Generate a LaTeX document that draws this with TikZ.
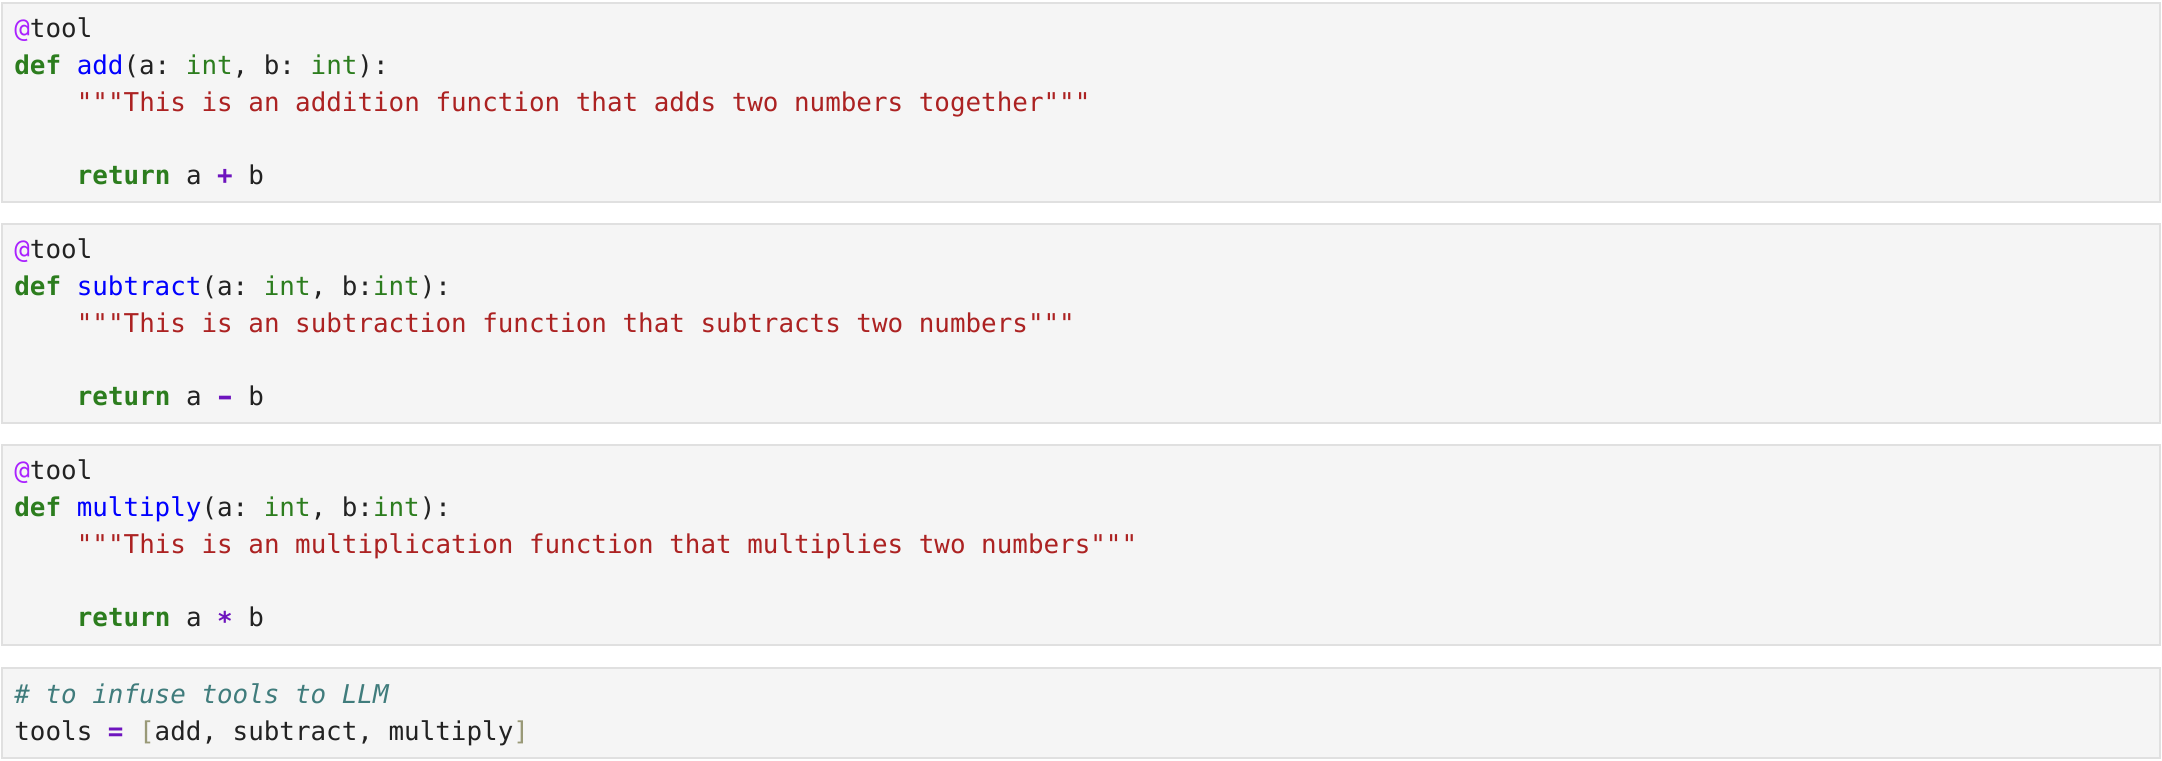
\documentclass[tikz,border=0pt]{standalone}
\usepackage{fontspec}
\usepackage{xcolor}
\usepackage{tikz}
\setmonofont{DejaVu Sans Mono}

\definecolor{cellbg}{HTML}{F5F5F5}
\definecolor{cellline}{HTML}{E0E0E0}
\definecolor{kwgreen}{RGB}{44,125,30}
\definecolor{fnblue}{HTML}{0000FF}
\definecolor{strred}{RGB}{172,34,34}
\definecolor{oppurple}{RGB}{110,20,190}
\definecolor{decopurple}{HTML}{AA22FF}
\definecolor{cmtteal}{RGB}{64,124,124}
\definecolor{brkolive}{RGB}{153,153,119}
\definecolor{plain}{HTML}{222222}

\newcommand{\kw}[1]{\textcolor{kwgreen}{\textbf{#1}}}
\newcommand{\bi}[1]{\textcolor{kwgreen}{#1}}
\newcommand{\fnname}[1]{\textcolor{fnblue}{#1}}
\newcommand{\strlit}[1]{\textcolor{strred}{#1}}
\newcommand{\pyop}[1]{\textcolor{oppurple}{\textbf{#1}}}
\newcommand{\deco}[1]{\textcolor{decopurple}{#1}}
\newcommand{\cmt}[1]{\textcolor{cmtteal}{\itshape #1}}
\newcommand{\brk}[1]{\textcolor{brkolive}{#1}}

\tikzset{
  cell/.style={fill=cellbg,draw=cellline,line width=1pt},
  code/.style={anchor=base west,inner sep=0pt,text=plain,
    font=\ttfamily\fontsize{12.95}{18}\selectfont}
}

\begin{document}
\begin{tikzpicture}[x=0.5pt,y=0.5pt]
\useasboundingbox (0,0) rectangle (2162,-760);

% cells
\draw[cell] (1.5,-3) rectangle (2159.5,-202);
\draw[cell] (1.5,-224) rectangle (2159.5,-423);
\draw[cell] (1.5,-445) rectangle (2159.5,-645);
\draw[cell] (1.5,-668) rectangle (2159.5,-757.5);

% add
\draw (14,-37) node[code] (a1) {\deco{@}tool};
\draw (14,-74) node[code] (a2) {\kw{def} \fnname{add}(a: \bi{int}, b: \bi{int}):};
\draw (76.5,-111) node[code] (a3) {\strlit{"""This is an addition function that adds two numbers together"""}};
\draw (76.5,-184) node[code] (a5) {\kw{return} a \pyop{+} b};

% subtract
\draw (14,-258) node[code] (s1) {\deco{@}tool};
\draw (14,-295) node[code] (s2) {\kw{def} \fnname{subtract}(a: \bi{int}, b:\bi{int}):};
\draw (76.5,-332) node[code] (s3) {\strlit{"""This is an subtraction function that subtracts two numbers"""}};
\draw (76.5,-405) node[code] (s5) {\kw{return} a \pyop{\makebox[0.602em]{\scalebox{1.5}[1]{-}}} b};

% multiply
\draw (14,-479) node[code] (m1) {\deco{@}tool};
\draw (14,-516) node[code] (m2) {\kw{def} \fnname{multiply}(a: \bi{int}, b:\bi{int}):};
\draw (76.5,-553) node[code] (m3) {\strlit{"""This is an multiplication function that multiplies two numbers"""}};
\draw (76.5,-626) node[code] (m5) {\kw{return} a \pyop{\raisebox{-0.17em}{*}} b};

% tools list
\draw (14,-703) node[code] (t1) {\cmt{\# to infuse tools to LLM}};
\draw (14,-740) node[code] (t2) {tools \pyop{=} \brk{[}add, subtract, multiply\brk{]}};

\end{tikzpicture}
\end{document}
